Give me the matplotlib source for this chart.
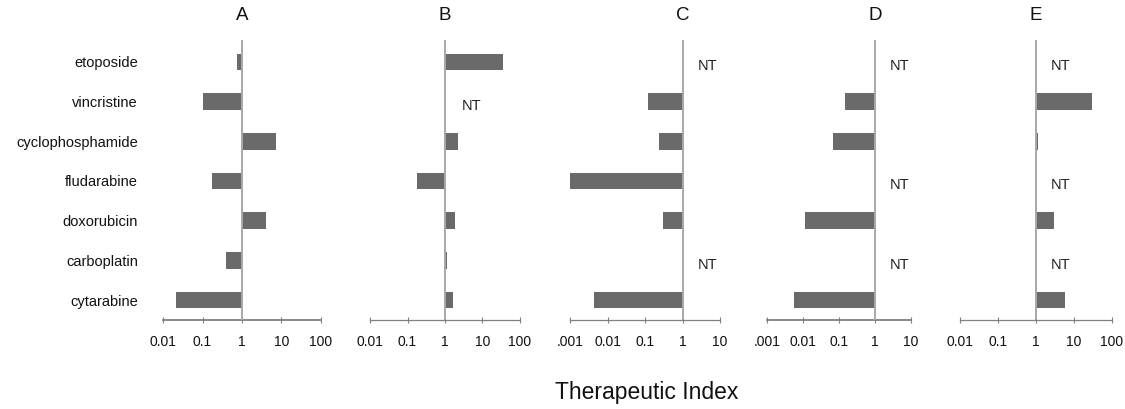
import numpy as np
import matplotlib
matplotlib.use("Agg")
import matplotlib.pyplot as plt
from matplotlib.ticker import FixedLocator, FixedFormatter, NullLocator

plt.rcParams['font.family'] = ['Liberation Sans', 'DejaVu Sans']

# drugs, top to bottom
drugs = ['etoposide', 'vincristine', 'cyclophosphamide', 'fludarabine',
         'doxorubicin', 'carboplatin', 'cytarabine']

# therapeutic index per panel (nan = not tested)
NT = np.nan
ti_a = [0.75, 0.10, 7.3, 0.17, 4.1, 0.39, 0.021]
ti_b = [35, NT, 2.2, 0.18, 1.9, 1.15, 1.6]
ti_c = [NT, 0.12, 0.23, 0.001, 0.31, NT, 0.0043]
ti_d = [NT, 0.15, 0.066, NT, 0.011, NT, 0.0056]
ti_e = [NT, 29, 1.13, NT, 2.9, NT, 5.8]

panel_names = ['A', 'B', 'C', 'D', 'E']
panel_data = [ti_a, ti_b, ti_c, ti_d, ti_e]

ticks_wide = [0.01, 0.1, 1, 10, 100]
labels_wide = ['0.01', '0.1', '1', '10', '100']
ticks_low = [0.001, 0.01, 0.1, 1, 10]
labels_low = ['.001', '0.01', '0.1', '1', '10']
panel_ticks = [(ticks_wide, labels_wide), (ticks_wide, labels_wide),
               (ticks_low, labels_low), (ticks_low, labels_low),
               (ticks_wide, labels_wide)]

# axes boxes in figure fraction (left, width)
boxes = [(0.1449, 0.1404), (0.3289, 0.1333), (0.5067, 0.1333),
         (0.6818, 0.1280), (0.8533, 0.1351)]
bottom, height = 0.2176, 0.6846

bar_color = '#6a6a6a'
line_color = '#a8a8a8'
axis_color = '#808080'

fig = plt.figure(figsize=(11.25, 4.09), dpi=100)
fig.patch.set_facecolor('white')

ypos = np.arange(len(drugs))[::-1]

for i, (name, vals, (tk, tl), (left, width)) in enumerate(
        zip(panel_names, panel_data, panel_ticks, boxes)):
    ax = fig.add_axes([left, bottom, width, height])
    vals = np.array(vals, dtype=float)
    ax.set_xscale('log')
    ax.set_xlim(tk[0], tk[-1])
    ax.set_ylim(-0.5, 6.55)

    ok = ~np.isnan(vals)
    ax.barh(ypos[ok], vals[ok] - 1, left=1, height=0.42,
            color=bar_color, edgecolor='none', zorder=2)
    ax.axvline(1, color=line_color, lw=1.4, zorder=3)

    # not tested markers
    for y, v in zip(ypos, vals):
        if np.isnan(v):
            ax.annotate('NT', xy=(1, y), xytext=(19 if i == 1 else 18, -3),
                        textcoords='offset points', ha='center', va='center',
                        fontsize=10.5, color='#222222')

    ax.annotate(name, xy=(1, 1), xycoords=('data', 'axes fraction'),
                xytext=(0, 18), textcoords='offset points',
                ha='center', va='center', fontsize=13.5, color='#111111')

    ax.xaxis.set_major_locator(FixedLocator(tk))
    ax.xaxis.set_major_formatter(FixedFormatter(tl))
    ax.xaxis.set_minor_locator(NullLocator())
    ax.tick_params(axis='x', direction='inout', length=5, width=0.8,
                   color=axis_color, labelsize=10, pad=8, labelcolor='#111111')

    for s in ['top', 'right', 'left']:
        ax.spines[s].set_visible(False)
    ax.spines['bottom'].set_color(axis_color)
    ax.spines['bottom'].set_linewidth(1.3 if name in ('A', 'D') else 0.9)

    if i == 0:
        ax.set_yticks(ypos)
        ax.set_yticklabels(drugs, fontsize=10.5, color='#111111')
        ax.tick_params(axis='y', length=0, pad=18)
    else:
        ax.set_yticks([])

fig.text(0.575, 0.04, 'Therapeutic Index', ha='center', va='center',
         fontsize=16.5, color='#111111')

fig.savefig('out.png', dpi=100, facecolor='white')
